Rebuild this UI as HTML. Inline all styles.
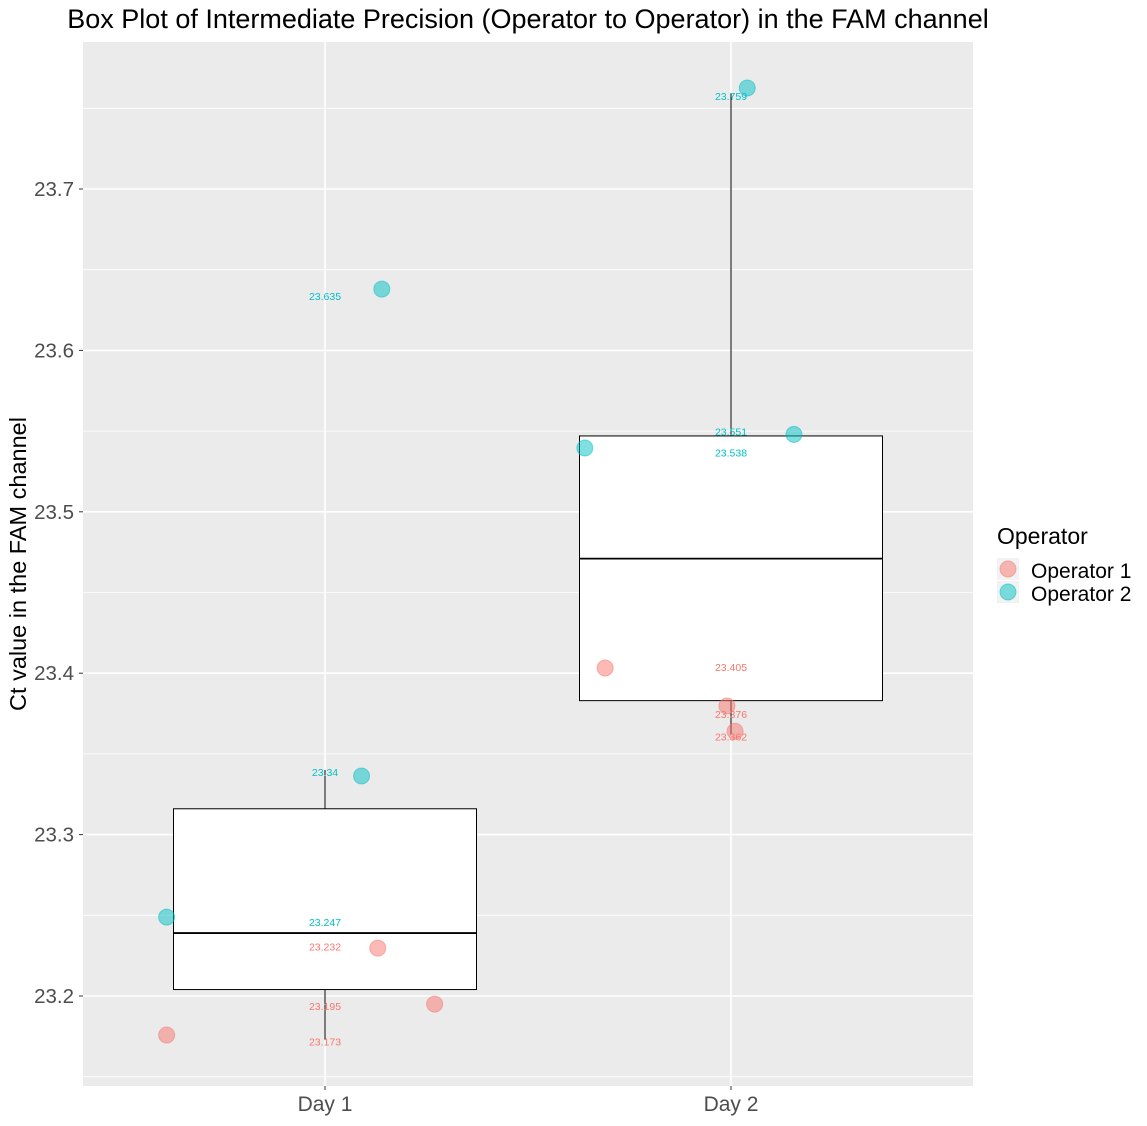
<!DOCTYPE html>
<html><head><meta charset="utf-8"><style>
body{margin:0;background:#fff;}
svg text{font-family:"Liberation Sans",sans-serif;}
</style></head><body>
<svg id="chart" width="1147" height="1121" xmlns="http://www.w3.org/2000/svg">
<text x="528" y="28" text-anchor="middle" font-size="27" fill="#000">Box Plot of Intermediate Precision (Operator to Operator) in the FAM channel</text>
<rect x="83" y="42" width="890" height="1044" fill="#EBEBEB"/>
<g id="grid"></g>
<g id="marks"></g>
<text transform="translate(26,564) rotate(-90)" text-anchor="middle" font-size="23.5" fill="#000">Ct value in the FAM channel</text>
<g>
<text x="997" y="544" font-size="23" fill="#000">Operator</text>
<rect x="997" y="558" width="22" height="22" fill="#F2F2F2"/>
<circle cx="1008" cy="569" r="8" fill="#F8766D" fill-opacity="0.5" stroke="#F8766D" stroke-opacity="0.5"/>
<text x="1031" y="578" font-size="21" fill="#000">Operator 1</text>
<rect x="997" y="581" width="22" height="22" fill="#F2F2F2"/>
<circle cx="1008" cy="592" r="8" fill="#00BFC4" fill-opacity="0.5" stroke="#00BFC4" stroke-opacity="0.5"/>
<text x="1031" y="601" font-size="21" fill="#000">Operator 2</text>
</g>
</svg>
<script>
const categories=["Day 1","Day 2"];
const yTicks=[23.2,23.3,23.4,23.5,23.6,23.7];
const yMinor=[23.15,23.25,23.35,23.45,23.55,23.65,23.75];
const boxLower=[23.204,23.383];
const boxMedian=[23.239,23.471];
const boxUpper=[23.316,23.547];
const whiskerLow=[23.173,23.362];
const whiskerHigh=[23.34,23.759];
const op1Day=[0,0,0,1,1,1];
const op1Vals=[23.173,23.232,23.195,23.405,23.376,23.362];
const op1PointVals=[23.1758,23.2297,23.195,23.4032,23.3797,23.364];
const op1Jitter=[-0.39,0.13,0.27,-0.31,-0.01,0.01];
const op2Day=[0,0,0,1,1,1];
const op2Vals=[23.247,23.34,23.635,23.538,23.551,23.759];
const op2PointVals=[23.2489,23.3363,23.638,23.5395,23.548,23.7626];
const op2Jitter=[-0.39,0.09,0.14,-0.36,0.155,0.04];
const ns="http://www.w3.org/2000/svg";
const y=v=>996-(v-23.2)*1614;
const x=i=>325+i*406;
const bw=303;
const grid=document.getElementById('grid'),marks=document.getElementById('marks'),svg=document.getElementById('chart');
function mk(p,tag,a){const e=document.createElementNS(ns,tag);for(const k in a)e.setAttribute(k,a[k]);p.appendChild(e);return e;}
yMinor.forEach(v=>{const l=mk(grid,'line',{x1:83,x2:973,y1:y(v),y2:y(v),stroke:'#fff','stroke-width':0.8});

});
yTicks.forEach(v=>{const l=mk(grid,'line',{x1:83,x2:973,y1:y(v),y2:y(v),stroke:'#fff','stroke-width':1.6});


const t=mk(svg,'text',{x:74,y:y(v)+7,'text-anchor':'end','font-size':20.5,fill:'#4D4D4D'});t.textContent=v.toFixed(1);


mk(svg,'line',{x1:79,x2:83,y1:y(v),y2:y(v),stroke:'#333'});});
categories.forEach((c,i)=>{const l=mk(grid,'line',{x1:x(i),x2:x(i),y1:42,y2:1086,stroke:'#fff','stroke-width':1.6});


mk(svg,'line',{x1:x(i),x2:x(i),y1:1086,y2:1090,stroke:'#333'});
const t=mk(svg,'text',{x:x(i),y:1111,'text-anchor':'middle','font-size':21,fill:'#4D4D4D'});t.textContent=c;


const w=mk(marks,'line',{x1:x(i),x2:x(i),y1:y(whiskerHigh[i]),y2:y(whiskerLow[i]),stroke:'#000','stroke-width':1});


const b=mk(marks,'rect',{x:x(i)-bw/2,y:y(boxUpper[i]),width:bw,height:y(boxLower[i])-y(boxUpper[i]),fill:'#fff',stroke:'#000','stroke-width':1});


const m=mk(marks,'line',{x1:x(i)-bw/2,x2:x(i)+bw/2,y1:y(boxMedian[i]),y2:y(boxMedian[i]),stroke:'#000','stroke-width':1.8});

});
function pts(days,vals,pv,jit,col,name){vals.forEach((v,k)=>{const cx=x(days[k])+jit[k]*406;
const c=mk(marks,'circle',{cx:cx,cy:y(pv[k]),r:8,fill:col,'fill-opacity':0.5,stroke:col,'stroke-opacity':0.5});


const t=mk(marks,'text',{x:x(days[k]),y:y(v)+6,'text-anchor':'middle','font-size':10.5,fill:col});t.textContent=String(v);

});}
pts(op1Day,op1Vals,op1PointVals,op1Jitter,'#F8766D','operator-1');
pts(op2Day,op2Vals,op2PointVals,op2Jitter,'#00BFC4','operator-2');
</script>
</body></html>
